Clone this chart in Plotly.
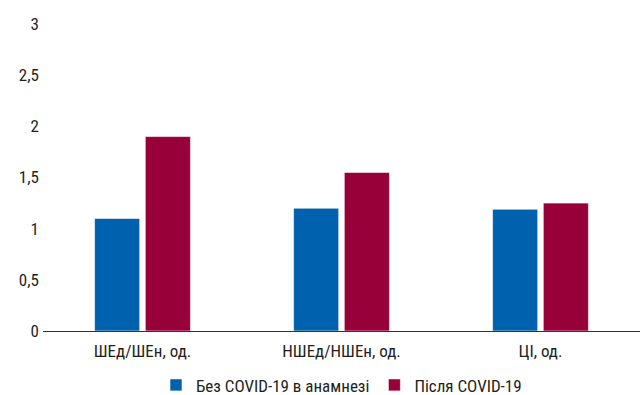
import plotly.graph_objects as go

categories = ["ШЕд/ШЕн, од.", "НШЕд/НШЕн, од.", "ЦІ, од."]
series_names = ["Без COVID-19 в анамнезі", "Після COVID-19"]
without_covid = [1.10, 1.20, 1.19]
after_covid = [1.90, 1.55, 1.25]
y_ticks = [0, 0.5, 1, 1.5, 2, 2.5, 3]

FONT = "Roboto Condensed, DejaVu Sans Condensed, sans-serif"
TXT = "#231F20"

fig = go.Figure()
fig.add_trace(go.Bar(x=categories, y=without_covid, name=series_names[0],
                     marker=dict(color="#0062AE", line=dict(color="#ffffff", width=0.6))))
fig.add_trace(go.Bar(x=categories, y=after_covid, name=series_names[1],
                     marker=dict(color="#98003A", line=dict(color="#ffffff", width=0.6))))

fig.update_layout(
    width=640, height=395,
    margin=dict(l=43, r=0, t=24, b=64, autoexpand=False),
    paper_bgcolor="white", plot_bgcolor="white",
    separators=", ",
    barmode="group", bargap=0.49, bargroupgap=0.11,
    font=dict(family=FONT, size=17, color=TXT),
    showlegend=True,
    legend=dict(orientation="h", x=0.5, xanchor="center", y=-0.177, yanchor="middle",
                bgcolor="rgba(0,0,0,0)",
                font=dict(family=FONT, size=17, color=TXT),
                itemwidth=30, tracegroupgap=0),
    xaxis=dict(showline=True, linecolor="#333333", linewidth=1.3, ticks="",
               showgrid=False, zeroline=False, tickfont=dict(size=17), ticklabelstandoff=4),
    yaxis=dict(range=[0, 3], tickvals=y_ticks, showgrid=False, zeroline=False,
               showline=False, ticks="", tickfont=dict(size=17), ticklabelstandoff=3),
)

fig.write_html("out.html")
